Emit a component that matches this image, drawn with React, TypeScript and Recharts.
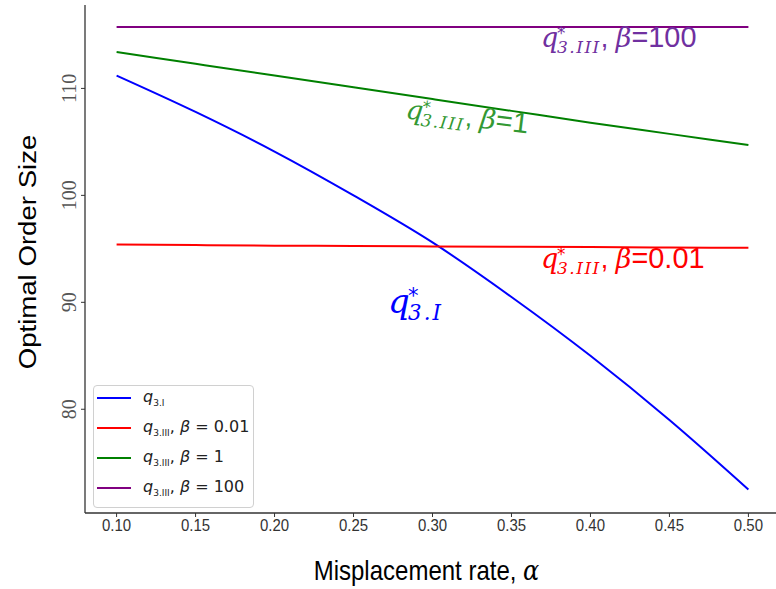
import React from 'react'
import { LineChart, Line, XAxis, YAxis, Legend, ReferenceDot } from 'recharts'

// misplacement rate (x) and the four optimal order size curves
const alpha = [0.1, 0.15, 0.2, 0.25, 0.3, 0.35, 0.4, 0.45, 0.5]
const q3I = [111.2, 107.8, 104.1, 100.0, 95.6, 90.5, 85.0, 79.0, 72.5]
const q3IIIb001 = [95.4, 95.35, 95.3, 95.27, 95.23, 95.2, 95.17, 95.13, 95.1]
const q3IIIb1 = [113.4, 112.3, 111.2, 110.1, 109.0, 107.9, 106.8, 105.75, 104.7]
const q3IIIb100 = [115.75, 115.75, 115.75, 115.75, 115.75, 115.75, 115.75, 115.75, 115.75]

const xTicks = [0.1, 0.15, 0.2, 0.25, 0.3, 0.35, 0.4, 0.45, 0.5]
const yTicks = [80, 90, 100, 110]

const series = [
  { key: 'q3I', sub: '3.I', beta: '', color: '#0000ff', values: q3I },
  { key: 'b001', sub: '3.III', beta: '0.01', color: '#ff0000', values: q3IIIb001 },
  { key: 'b1', sub: '3.III', beta: '1', color: '#008000', values: q3IIIb1 },
  { key: 'b100', sub: '3.III', beta: '100', color: '#800080', values: q3IIIb100 },
]

const data = alpha.map((a, i) => {
  const row: Record<string, number> = { alpha: a }
  series.forEach((s) => (row[s.key] = s.values[i]))
  return row
})

// in-plot annotations (anchored in data coordinates at the left baseline of "q")
const notes = [
  { x: 0.3687, y: 113.83, sub: '3.III', tail: '=100', color: '#7030a0', size: 27, angle: 0 },
  { x: 0.2826, y: 107.2, sub: '3.III', tail: '=1', color: '#339933', size: 27, angle: 7 },
  { x: 0.3687, y: 93.18, sub: '3.III', tail: '=0.01', color: '#ff0000', size: 27, angle: 0 },
  { x: 0.2718, y: 88.97, sub: '3.I', tail: '', color: '#0000ff', size: 34, angle: 0 },
]

const SERIF = "'DejaVu Serif', serif"
const SANS = "'Liberation Sans', Arial, sans-serif"

function QNote({ cx, cy, sub, tail, color, size, angle }: any) {
  const s = size
  const big = !tail
  const star = s * 0.62
  return (
    <g transform={`translate(${cx},${cy}) rotate(${angle})`} fill={color}>
      <text x={0} y={0} fontSize={s}>
        <tspan fontFamily={SERIF} fontStyle="italic">q</tspan>
        <tspan fontFamily="'DejaVu Sans', sans-serif" fontSize={star} dy={-s * 0.3} dx={-s * 0.05}>*</tspan>
        <tspan
          fontFamily={SERIF}
          fontStyle="italic"
          fontSize={s * 0.63}
          letterSpacing={big ? 2 : 1.5}
          dx={-star * 0.5}
          dy={s * 0.5}
        >
          {sub}
        </tspan>
        {tail ? (
          <>
            <tspan dy={-s * 0.2} fontFamily={SANS}>, </tspan>
            <tspan fontFamily={SERIF} fontStyle="italic">β</tspan>
            <tspan fontFamily={SANS} fontSize={s * 1.07}>{tail}</tspan>
          </>
        ) : null}
      </text>
    </g>
  )
}

function XTick({ x, y, payload }: any) {
  return (
    <text
      transform={`translate(${x},${y}) scale(1,1.15)`}
      textAnchor="middle"
      dy="0.71em"
      fontSize={15}
      fontFamily={SANS}
      fill="#333"
    >
      {Number(payload.value).toFixed(2)}
    </text>
  )
}

function YTick({ x, y, payload }: any) {
  return (
    <text
      transform={`translate(${x},${y}) rotate(-90)`}
      textAnchor="middle"
      fontSize={20}
      fontFamily="'Liberation Serif', serif"
      fill="#555"
    >
      {payload.value}
    </text>
  )
}

function XTitle({ viewBox }: any) {
  const cx = viewBox.x + viewBox.width / 2
  return (
    <text
      transform={`translate(${cx - 6},${viewBox.y + 67}) scale(1,1.15)`}
      textAnchor="middle"
      fontSize={24}
      fontFamily={SANS}
      fill="#000"
    >
      Misplacement rate, <tspan fontFamily={SERIF} fontStyle="italic">α</tspan>
    </text>
  )
}

function YTitle({ viewBox }: any) {
  return (
    <text
      transform={`translate(${viewBox.x + 36},${viewBox.y + 247}) rotate(-90) scale(1.15,1)`}
      textAnchor="middle"
      fontSize={24}
      fontFamily={SANS}
      fill="#000"
    >
      Optimal Order Size
    </text>
  )
}

function LegendBox() {
  return (
    <div
      style={{
        boxSizing: 'border-box',
        width: 161,
        height: 123,
        border: '1px solid #d0d0d0',
        borderRadius: 4,
        background: 'rgba(255,255,255,0.85)',
        fontFamily: "'DejaVu Sans', sans-serif",
        fontSize: 16,
        color: '#222',
      }}
    >
      <div style={{ marginTop: -3 }}>
        {series.map((s) => (
          <div key={s.key} style={{ display: 'flex', alignItems: 'center', height: 30 }}>
            <div style={{ width: 34, height: 2, background: s.color, marginLeft: 3, marginRight: 12 }} />
            <span style={{ whiteSpace: 'nowrap' }}>
              <i>q</i>
              <sub style={{ fontSize: 9 }}>{s.sub}</sub>
              {s.beta ? (
                <>
                  , <i>β</i> = {s.beta}
                </>
              ) : null}
            </span>
          </div>
        ))}
      </div>
    </div>
  )
}

export default function App() {
  return (
    <div
      style={{
        position: 'absolute',
        left: 0,
        top: 0,
        width: 776,
        height: 589,
        overflow: 'hidden',
        background: '#fff',
      }}
    >
      <LineChart width={780} height={589} data={data} margin={{ top: 5, right: 0, bottom: 0, left: 0 }}>
        <XAxis
          dataKey="alpha"
          type="number"
          domain={[0.08, 0.52]}
          ticks={xTicks}
          height={76}
          tickSize={4}
          tickMargin={2}
          tick={<XTick />}
          tickLine={{ stroke: '#333' }}
          axisLine={{ stroke: '#333', strokeWidth: 1.3 }}
          label={<XTitle />}
        />
        <XAxis
          xAxisId="top"
          orientation="top"
          dataKey="alpha"
          type="number"
          domain={[0.08, 0.52]}
          height={0}
          tick={false}
          tickLine={false}
          axisLine={{ stroke: '#333', strokeWidth: 1.3 }}
        />
        <YAxis
          type="number"
          domain={[70.3, 117.8]}
          ticks={yTicks}
          width={85}
          tickSize={4}
          tickMargin={5}
          tick={<YTick />}
          tickLine={{ stroke: '#333' }}
          axisLine={{ stroke: '#333', strokeWidth: 1.3 }}
          label={<YTitle />}
        />
        {series.map((s) => (
          <Line
            key={s.key}
            dataKey={s.key}
            type="monotone"
            stroke={s.color}
            strokeWidth={2}
            dot={false}
            isAnimationActive={false}
          />
        ))}
        {notes.map((n, i) => (
          <ReferenceDot
            key={i}
            x={n.x}
            y={n.y}
            r={0}
            ifOverflow="visible"
            shape={(p: any) => <QNote {...n} cx={p.cx} cy={p.cy} />}
          />
        ))}
        <Legend
          layout="vertical"
          align="center"
          verticalAlign="middle"
          wrapperStyle={{ position: 'absolute', left: 93, top: 385, width: 161, height: 123 }}
          content={() => <LegendBox />}
        />
      </LineChart>
    </div>
  )
}
